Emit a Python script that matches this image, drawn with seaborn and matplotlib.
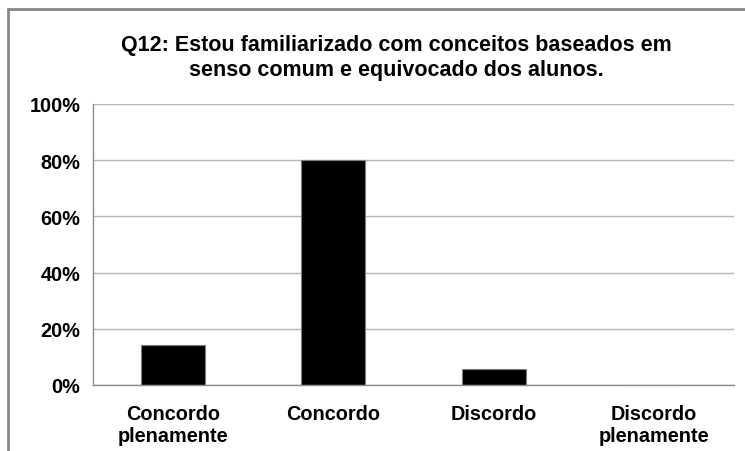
import matplotlib
matplotlib.use("Agg")
import matplotlib.pyplot as plt
from matplotlib.lines import Line2D
from matplotlib.ticker import FixedLocator, PercentFormatter
import seaborn as sns
import pandas as pd

categories = ["Concordo\nplenamente", "Concordo", "Discordo", "Discordo\nplenamente"]
percentages = [14.29, 80.0, 5.71, 0.0]
y_ticks = [0, 20, 40, 60, 80, 100]
title = "Q12: Estou familiarizado com conceitos baseados em\nsenso comum e equivocado dos alunos."

sns.set_style("white")
plt.rcParams["font.family"] = ["Liberation Sans", "DejaVu Sans"]
plt.rcParams["text.color"] = "black"
plt.rcParams["xtick.color"] = "black"
plt.rcParams["ytick.color"] = "black"

df = pd.DataFrame({"categoria": categories, "pct": percentages})

fig = plt.figure(figsize=(7.45, 4.52), dpi=100)
ax = fig.add_axes([93 / 745, 1 - 386 / 452, (734 - 93) / 745, (386 - 105) / 452])

sns.barplot(data=df, x="categoria", y="pct", ax=ax, color="black",
            width=0.4, edgecolor="#808080", linewidth=0.8, saturation=1)

ax.set_ylim(0, 100)
ax.set_xlim(-0.5, len(categories) - 0.5)
ax.yaxis.set_major_locator(FixedLocator(y_ticks))
ax.yaxis.set_major_formatter(PercentFormatter(decimals=0))
ax.yaxis.grid(True, color="#b4b4b4", linewidth=1.0)
ax.set_axisbelow(True)

for side in ["top", "right"]:
    ax.spines[side].set_visible(False)
for side in ["left", "bottom"]:
    ax.spines[side].set_color("#8c8c8c")
    ax.spines[side].set_linewidth(1.0)

ax.tick_params(axis="y", direction="out", length=5, color="#8c8c8c",
               labelcolor="black", width=1.0, pad=4, labelsize=14.3)
ax.tick_params(axis="x", which="major", length=0, pad=14, labelsize=14.3,
               labelcolor="black")
ax.set_xticks([i - 0.5 for i in range(len(categories) + 1)], minor=True)
ax.tick_params(axis="x", which="minor", direction="out", length=5,
               color="#8c8c8c", width=1.0)
for lbl in ax.get_xticklabels() + ax.get_yticklabels():
    lbl.set_fontweight("bold")
ax.set_xlabel("")
ax.set_ylabel("")

fig.text(396 / 745, 1 - 58 / 452, title, ha="center", va="center",
         fontsize=15.5, fontweight="bold", linespacing=1.2, color="black")

# chart-area frame: top and left edges
frame_kw = dict(transform=fig.transFigure, color="#868686", linewidth=2.0)
fig.lines.append(Line2D([8 / 745, 1.0], [1 - 10 / 452, 1 - 10 / 452], **frame_kw))
fig.lines.append(Line2D([8 / 745, 8 / 745], [0.0, 1 - 10 / 452], **frame_kw))

fig.savefig("out.png", dpi=100)
